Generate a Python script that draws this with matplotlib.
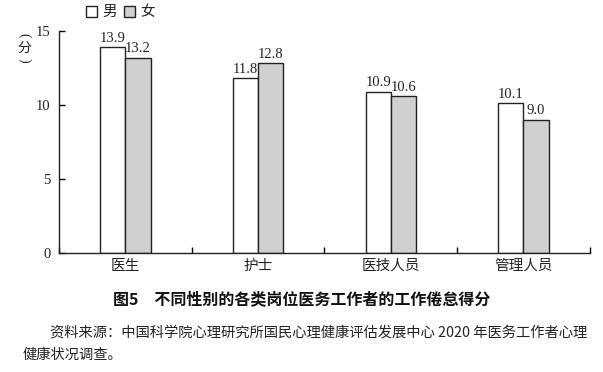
import matplotlib.pyplot as plt
import numpy as np
from matplotlib.patches import Rectangle

plt.rcParams['font.family'] = ['Liberation Serif', 'Noto Sans CJK SC']

categories = ["医生", "护士", "医技人员", "管理人员"]
male = [13.9, 11.8, 10.9, 10.1]
female = [13.2, 12.8, 10.6, 9.0]
yticks = [0, 5, 10, 15]

fig = plt.figure(figsize=(6.03, 3.72), dpi=100)
ax = fig.add_axes([0.098, 0.32, 0.88, 0.597])

x = np.arange(len(categories))
w = 0.19
ax.bar(x - w / 2, male, w, color="white", edgecolor="#222222", linewidth=1.0)
ax.bar(x + w / 2, female, w, color="#d0d0d2", edgecolor="#222222", linewidth=1.0)

for i in range(len(categories)):
    ax.text(x[i] - w / 2, male[i] + 0.15, f"{male[i]:.1f}", ha="center", va="bottom",
            fontsize=10.5, color="#222222")
    ax.text(x[i] + w / 2, female[i] + 0.15, f"{female[i]:.1f}", ha="center", va="bottom",
            fontsize=10.5, color="#222222")

ax.set_xlim(-0.5, len(categories) - 0.5)
ax.set_ylim(0, 15)
ax.set_yticks(yticks)
ax.set_yticklabels([str(t) for t in yticks], fontsize=10.5, color="#222222")
ax.set_xticks(np.arange(len(categories) + 1) - 0.5)
ax.set_xticklabels([])
ax.set_xticks(x, minor=True)
ax.set_xticklabels(categories, minor=True, fontsize=10.5, color="#222222",
                   family=['Noto Sans CJK SC'])
ax.tick_params(axis="x", which="minor", length=0, pad=4)
ax.tick_params(axis="x", which="major", direction="in", length=4, width=1)
ax.tick_params(axis="y", direction="in", length=4, width=1, pad=6)
for s in ["top", "right"]:
    ax.spines[s].set_visible(False)
for s in ["left", "bottom"]:
    ax.spines[s].set_linewidth(1.0)
    ax.spines[s].set_color("#222222")

# legend
for lx, fc, lab in [(0.143, "white", "男"), (0.206, "#d0d0d2", "女")]:
    fig.patches.append(Rectangle((lx, 0.953), 0.018, 0.03, transform=fig.transFigure,
                                 facecolor=fc, edgecolor="#222222", linewidth=1.0))
    fig.text(lx + 0.026, 0.968, lab, fontsize=10.5, va="center", ha="left",
             family=['Noto Sans CJK SC'], color="#222222")

# y unit: upright 分 with rotated brackets
unit_kw = dict(va="center", ha="center", color="#222222")
fig.text(0.04, 0.905, "(", rotation=-90, fontsize=10, family=['Liberation Serif'], **unit_kw)
fig.text(0.04, 0.872, "分", fontsize=10, family=['Noto Sans CJK SC'], **unit_kw)
fig.text(0.04, 0.838, ")", rotation=-90, fontsize=10, family=['Liberation Serif'], **unit_kw)

fig.text(0.5, 0.197, "图5　不同性别的各类岗位医务工作者的工作倦怠得分", fontsize=11.5,
         fontweight="bold", ha="center", va="center", family=['Noto Sans CJK SC'],
         color="#111111")
fig.text(0.083, 0.105, "资料来源：中国科学院心理研究所国民心理健康评估发展中心 2020 年医务工作者心理",
         fontsize=10.3, ha="left", va="center", family=['Noto Sans CJK SC', 'Liberation Serif'],
         color="#222222")
fig.text(0.038, 0.045, "健康状况调查。", fontsize=10.3, ha="left", va="center",
         family=['Noto Sans CJK SC'], color="#222222")

fig.savefig("out.png", dpi=100)
